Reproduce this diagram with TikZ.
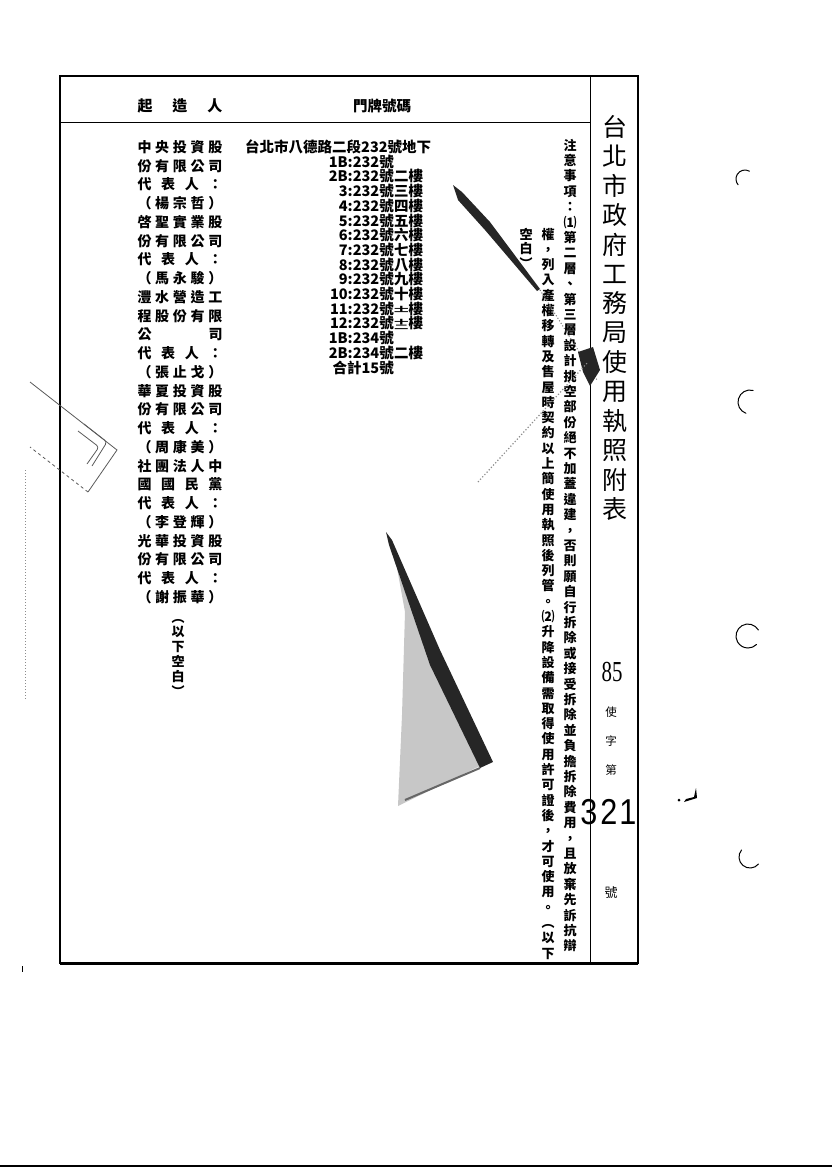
\documentclass[tikz,border=0pt]{standalone}
\usepackage{fontspec}
\setmainfont{Noto Sans CJK TC}
\newfontfamily\latinsans{Liberation Sans}
\newfontfamily\latinserif{Liberation Serif}

\makeatletter
\def\spr#1{\spr@#1\@nil}
\def\spr@#1#2{#1\ifx\@nil#2\else\hfill\expandafter\spr@\expandafter#2\fi}
\makeatother
\newcommand\spreadline[2]{\hbox to #1{\expandafter\spr\expandafter{#2}}}
\newcommand\twoup[2]{\lower0.02em\vbox{\offinterlineskip\hbox{\scalebox{1}[0.42]{#1}}\hbox{\scalebox{1}[0.42]{#2}}}}

\tikzset{
  owner/.style={inner sep=0pt, text height=12.3pt, text depth=1.7pt, font=\bfseries\fontsize{14}{14}\selectfont},
  addr/.style={inner sep=0pt, text height=12.8pt, text depth=1.7pt, font=\bfseries\fontsize{14.5}{14.5}\selectfont},
  note/.style={inner sep=0pt, text height=11.5pt, text depth=1.5pt, font=\bfseries\fontsize{13}{13}\selectfont},
  small/.style={inner sep=0pt, font=\fontsize{11.5}{11.5}\selectfont},
  title/.style={inner sep=0pt, font=\fontsize{25}{25}\selectfont},
  bignum/.style={inner sep=0pt, font=\latinsans\fontsize{36}{36}\selectfont},
  frame/.style={line width=2pt},
  rule/.style={line width=0.9pt},
  smear/.style={fill=black!85},
  speckle/.style={fill=black!22},
  clipline/.style={draw=black!65, line width=0.8pt},
  hole/.style={line width=1pt, line cap=round},
}

\begin{document}
\begin{tikzpicture}[x=1pt,y=-1pt]
\useasboundingbox (0,0) rectangle (832,1168);

% frame of the table
\coordinate (tl) at (60,76);
\coordinate (tr) at (638,76);
\coordinate (bl) at (60,963);
\coordinate (br) at (638,963);
\coordinate (dt) at (590,76);
\coordinate (db) at (590,963);
\coordinate (hl) at (60,122);
\coordinate (hr) at (590,122);
\draw[frame] (tl) -- (tr) -- (br) -- (bl) -- cycle;
\draw[line width=3pt] (bl) -- (br);
\draw[rule] (dt) -- (db);
\draw[rule] (hl) -- (hr);

% header
\node[owner, font=\bfseries\fontsize{15}{15}\selectfont] (hdowner) at (180,106) {\spreadline{85pt}{起造人}};
\node[addr] (hdaddr) at (382,106) {門牌號碼};

% owners
\foreach \t [count=\i] in {中央投資股,份有限公司,代表人：,（楊宗哲）,啓聖實業股,份有限公司,代表人：,（馬永駿）,灃水營造工,程股份有限,公司,代表人：,（張止戈）,華夏投資股,份有限公司,代表人：,（周康美）,社團法人中,國國民黨,代表人：,（李登輝）,光華投資股,份有限公司,代表人：,（謝振華）}
  \node[owner] (o\i) at (180,{147+(\i-1)*18.75}) {\spreadline{85pt}{\t}};

\foreach \c [count=\i] in {︵,以,下,空,白,︶}
  \node[note] (e\i) at (178,{617+(\i-1)*14.8}) {\c};

% addresses
\node[addr, anchor=west] (a1) at (245,147) {台北市八德路二段232號地下};
\foreach \n/\f [count=\i from 2] in {1B:232/{},2B:232/二樓,3:232/三樓,4:232/四樓,5:232/五樓,6:232/六樓,7:232/七樓,8:232/八樓,9:232/九樓,10:232/十樓,11:232/{\twoup{十}{一}樓},12:232/{\twoup{十}{二}樓},1B:234/{},2B:234/二樓,合計15/{}}
{
  \node[addr, anchor=east] (a\i) at (394,{147+(\i-1)*14.7}) {\n{}號};
  \node[addr, anchor=west] (f\i) at (a\i.east) {\f};
}

% notes, written top to bottom
\foreach \c [count=\i] in {注,意,事,項,：,⑴,第,二,層,、,第,三,層,設,計,挑,空,部,份,絕,不,加,蓋,違,建,，,否,則,願,自,行,拆,除,或,接,受,拆,除,並,負,擔,拆,除,費,用,，,且,放,棄,先,訴,抗,辯}
  \node[note] (p\i) at (570,{145+(\i-1)*15.4}) {\c};
\foreach \c [count=\i] in {權,，,列,入,產,權,移,轉,及,售,屋,時,契,約,以,上,簡,使,用,執,照,後,列,管,。,⑵,升,降,設,備,需,取,得,使,用,許,可,證,後,，,才,可,使,用,。,︵,以,下}
  \node[note] (q\i) at (548,{234+(\i-1)*15.3}) {\c};
\foreach \c [count=\i] in {空,白,︶}
  \node[note] (r\i) at (526,{234+(\i-1)*14.5}) {\c};

% title column
\foreach \c [count=\i] in {台,北,市,政,府,工,務,局,使,用,執,照,附,表}
  \node[title] (t\i) at (615,{127+(\i-1)*29.4}) {\c};

% permit number
\node[inner sep=0pt, font=\latinserif\fontsize{29}{29}\selectfont] (year) at (612,672) {\scalebox{0.72}[1]{85}};
\node[small] (k1) at (611,712) {使};
\node[small] (k2) at (611,741) {字};
\node[small] (k3) at (611,770) {第};
\node[bignum] (d3) at (589,812) {\scalebox{0.85}[1]{3}};
\node[bignum] (d2) at (609,812) {\scalebox{0.85}[1]{2}};
\node[bignum] (d1) at (628,812) {\scalebox{0.85}[1]{1}};
\node[small, font=\fontsize{13}{13}\selectfont] (hao) at (611,893) {號};

% scan marks
\fill[smear] (453,185) -- (462,192) -- (490,222) -- (540,289) -- (537,291) -- (485,230) -- (458,200) -- cycle;
\draw[black!55, dotted, line width=1pt] (540,290) -- (597,380);
\fill[smear] (578,352) -- (593,347) -- (600,370) -- (590,386) -- (583,372) -- cycle;
\draw[black!45, dotted, line width=1.2pt] (478,482) -- (588,362);
\fill[speckle] (395,557) -- (488,762) -- (398,806) -- (402,715) -- (405,612) -- cycle;
\fill[smear] (386,532) -- (392,540) -- (440,650) -- (493,762) -- (480,768) -- (430,665) -- (389,545) -- cycle;
\draw[black!60, line width=2pt] (405,800) -- (480,768);

% clip on the left edge
\draw[clipline] (30,382) -- (117,450) -- (88,492);
\draw[clipline, dashed] (88,492) -- (30,447);
\draw[clipline, rounded corners=3pt] (84,424) -- (107,442) -- (92,466);
\draw[clipline, rounded corners=3pt] (78,431) -- (99,447) -- (87,464);
\draw[black!45, dotted, line width=1pt] (25,470) -- (25,700);
\draw[line width=1pt] (22,966) -- (22,972);

% punch holes
\foreach \x/\y/\a/\b/\r in {745/179/300/140/9,750/402/285/110/12,748/636/330/45/12,750/857/220/40/11}
  \draw[hole] ([shift={(\a:\r)}]\x,\y) arc[start angle=\a, end angle=\b, radius=\r];
\fill (679,800) circle (1.5);
\fill (684,802) -- (697,798) -- (696,788) -- (694,797) -- (686,799) -- cycle;

\draw[line width=1.5pt] (0,1166) -- (832,1166);
\end{tikzpicture}
\end{document}
